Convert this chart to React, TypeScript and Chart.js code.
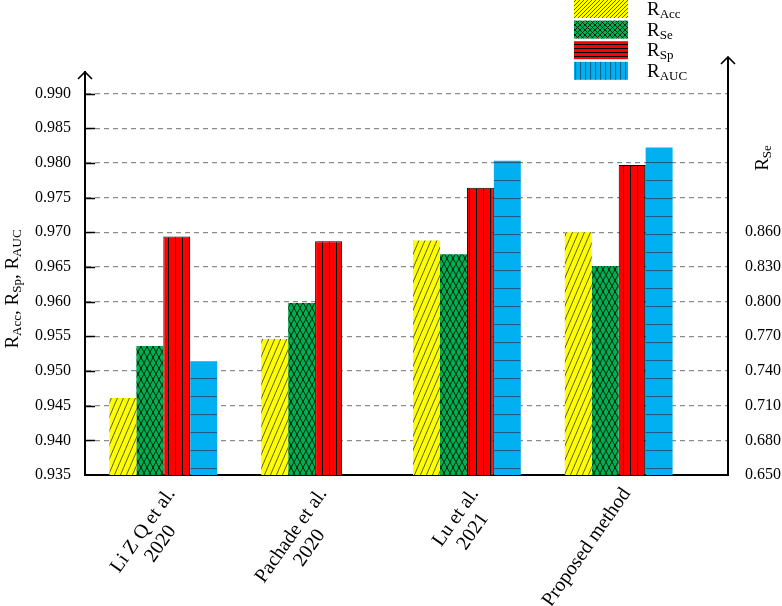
import React, { useEffect, useRef } from "react";
import { Chart, registerables } from "chart.js";

Chart.register(...registerables);

// Datos
const categories = [
  ["Li Z Q et al.", "2020"],
  ["Pachade et al.", "2020"],
  ["Lu et al.", "2021"],
  ["Proposed method"],
];
const seriesSubs = ["Acc", "Se", "Sp", "AUC"];
const accValues = [0.9461, 0.9546, 0.9688, 0.97];
const seValues = [0.7616, 0.7988, 0.841, 0.8308];
const spValues = [0.9694, 0.9687, 0.9764, 0.9797];
const aucValues = [0.9514, null, 0.9803, 0.9822];
const leftTicks = [0.935, 0.94, 0.945, 0.95, 0.955, 0.96, 0.965, 0.97, 0.975, 0.98, 0.985, 0.99];
const rightTicks = [0.65, 0.68, 0.71, 0.74, 0.77, 0.8, 0.83, 0.86];

const LEFT_MIN = 0.935;
const LEFT_MAX = 0.9931;
const RIGHT_MIN = 0.65;
const RIGHT_MAX = RIGHT_MIN + (LEFT_MAX - LEFT_MIN) * 6;

const FAMILY = "'Liberation Serif', 'Times New Roman', serif";
const MAIN_FONT = `19px ${FAMILY}`;
const SUB_FONT = `13px ${FAMILY}`;

type Part = [string, boolean];

const makePattern = (
  w: number,
  h: number,
  bg: string,
  draw: (c: CanvasRenderingContext2D) => void
) => {
  const cv = document.createElement("canvas");
  cv.width = w;
  cv.height = h;
  const c = cv.getContext("2d")!;
  c.fillStyle = bg;
  c.fillRect(0, 0, w, h);
  draw(c);
  return c.createPattern(cv, "repeat")!;
};

const seg = (c: CanvasRenderingContext2D, x1: number, y1: number, x2: number, y2: number) => {
  c.beginPath();
  c.moveTo(x1, y1);
  c.lineTo(x2, y2);
  c.stroke();
};

const hatch = (w: number, h: number, bg: string, color: string) =>
  makePattern(w, h, bg, (c) => {
    c.strokeStyle = color;
    c.lineWidth = 0.8;
    for (const dx of [-w, 0, w]) seg(c, dx, h, dx + w, 0);
  });

const cross = (w: number, h: number, bg: string) =>
  makePattern(w, h, bg, (c) => {
    c.strokeStyle = "#000";
    c.lineWidth = 0.8;
    for (const dx of [-w, 0, w]) {
      seg(c, dx, h, dx + w, 0);
      seg(c, dx, 0, dx + w, h);
    }
  });

const vlines = (w: number, h: number, bg: string, color: string, lw: number) =>
  makePattern(w, h, bg, (c) => {
    c.strokeStyle = color;
    c.lineWidth = lw;
    seg(c, 0.5, 0, 0.5, h);
  });

const hlines = (w: number, h: number, bg: string, color: string, lw: number) =>
  makePattern(w, h, bg, (c) => {
    c.strokeStyle = color;
    c.lineWidth = lw;
    seg(c, 0, 0.5, w, 0.5);
  });

// Texto con subíndices
const richWidth = (ctx: CanvasRenderingContext2D, parts: Part[]) =>
  parts.reduce((s, [t, sub]) => {
    ctx.font = sub ? SUB_FONT : MAIN_FONT;
    return s + ctx.measureText(t).width;
  }, 0);

const drawRich = (ctx: CanvasRenderingContext2D, parts: Part[], x: number, y: number) => {
  let cx = x;
  for (const [t, sub] of parts) {
    ctx.font = sub ? SUB_FONT : MAIN_FONT;
    ctx.fillText(t, cx, sub ? y + 3 : y);
    cx += ctx.measureText(t).width;
  }
};

const drawVertical = (ctx: CanvasRenderingContext2D, parts: Part[], cx: number, cy: number) => {
  const w = richWidth(ctx, parts);
  ctx.save();
  ctx.translate(cx, cy);
  ctx.rotate(-Math.PI / 2);
  drawRich(ctx, parts, -w / 2, 6);
  ctx.restore();
};

const drawArrow = (ctx: CanvasRenderingContext2D, x: number, y: number) => {
  ctx.beginPath();
  ctx.moveTo(x - 7, y + 7);
  ctx.lineTo(x, y);
  ctx.lineTo(x + 7, y + 7);
  ctx.stroke();
};

let measureCtx: CanvasRenderingContext2D | null = null;
const centerLines = (lines: string[]) => {
  if (!measureCtx) measureCtx = document.createElement("canvas").getContext("2d");
  const m = measureCtx!;
  m.font = `20px ${FAMILY}`;
  const widths = lines.map((l) => m.measureText(l).width);
  const maxW = Math.max(...widths);
  const sp = m.measureText(" ").width;
  return lines.map((l, i) => l + " ".repeat(Math.round((maxW - widths[i]) / 2 / sp)));
};

const ComparisonChart: React.FC = () => {
  const chartRef = useRef<HTMLCanvasElement>(null);
  const chartInstanceRef = useRef<Chart | null>(null);

  useEffect(() => {
    if (!chartRef.current) return;
    if (chartInstanceRef.current) chartInstanceRef.current.destroy();

    const barPatterns = [
      hatch(6, 14, "#FFFF00", "#333"),
      cross(6, 11, "#00B050"),
      vlines(7, 4, "#FF0000", "#000", 1),
      hlines(4, 18, "#00B0F0", "#1B5E86", 1.2),
    ];
    const legendPatterns = [
      hatch(4, 4, "#FFFF00", "#333"),
      cross(5, 5, "#00B050"),
      hlines(4, 4, "#FF0000", "#000", 1),
      vlines(5, 4, "#00B0F0", "#1B5E86", 1.2),
    ];

    const overlay = {
      id: "overlay",
      afterDraw(chart: Chart) {
        const { ctx, chartArea, scales } = chart;
        ctx.save();
        ctx.strokeStyle = "#000";
        ctx.fillStyle = "#000";

        // marcas interiores del eje izquierdo
        ctx.lineWidth = 1.5;
        leftTicks.slice(1).forEach((v) => {
          const y = Math.round(scales.y.getPixelForValue(v)) + 0.5;
          seg(ctx, chartArea.left, y, chartArea.left + 10, y);
        });

        // flechas de los ejes
        ctx.lineWidth = 2;
        seg(ctx, chartArea.right, chartArea.top + 1, chartArea.right, chartArea.top - 15);
        ctx.lineWidth = 1.6;
        drawArrow(ctx, chartArea.left, chartArea.top);
        drawArrow(ctx, chartArea.right, chartArea.top - 15);

        // leyenda
        ctx.textBaseline = "alphabetic";
        ctx.textAlign = "left";
        seriesSubs.forEach((sub, i) => {
          const top = i * 20.6;
          ctx.fillStyle = legendPatterns[i];
          ctx.fillRect(574, top, 54, 18);
          ctx.fillStyle = "#000";
          drawRich(ctx, [["R", false], [sub, true]], 647, top + 15);
        });

        // títulos de los ejes
        drawVertical(
          ctx,
          [["R", false], ["Acc", true], [", R", false], ["Sp", true], [", R", false], ["AUC", true]],
          12,
          289
        );
        drawVertical(ctx, [["R", false], ["Se", true]], 762, 158);
        ctx.restore();
      },
    };

    const toPoints = (vals: (number | null)[]) => vals.map((v, i) => ({ x: i, y: v }));
    const tickFont = { family: FAMILY, size: 16 };

    chartInstanceRef.current = new Chart(chartRef.current, {
      type: "bar",
      data: {
        datasets: [
          { label: "RAcc", data: toPoints(accValues), backgroundColor: barPatterns[0], borderWidth: 0, yAxisID: "y" },
          { label: "RSe", data: toPoints(seValues), backgroundColor: barPatterns[1], borderWidth: 0, yAxisID: "y2" },
          { label: "RSp", data: toPoints(spValues), backgroundColor: barPatterns[2], borderColor: "#000", borderWidth: 1, yAxisID: "y" },
          { label: "RAUC", data: toPoints(aucValues), backgroundColor: barPatterns[3], borderWidth: 0, yAxisID: "y" },
        ] as any,
      },
      options: {
        responsive: false,
        animation: false,
        layout: { padding: { top: 72, left: 0, right: 0, bottom: 0 } },
        datasets: { bar: { categoryPercentage: 0.71, barPercentage: 1 } },
        plugins: { legend: { display: false }, tooltip: { enabled: false } },
        scales: {
          x: {
            type: "linear",
            offset: false,
            min: -0.516,
            max: 3.72,
            afterBuildTicks: (s: any) => {
              s.ticks = categories.map((_, i) => ({ value: i }));
            },
            afterFit: (s: any) => {
              s.height = 131;
            },
            grid: { display: false, drawTicks: false, offset: false },
            border: { display: true, color: "#000", width: 2 },
            ticks: {
              autoSkip: false,
              minRotation: 55,
              maxRotation: 55,
              padding: 9,
              labelOffset: 8,
              color: "#000",
              font: { family: FAMILY, size: 20, lineHeight: 1.1 },
              callback: (_v: any, i: number) => centerLines(categories[i]),
            },
          },
          y: {
            type: "linear",
            position: "left",
            min: LEFT_MIN,
            max: LEFT_MAX,
            afterBuildTicks: (s: any) => {
              s.ticks = leftTicks.map((v) => ({ value: v }));
            },
            afterFit: (s: any) => {
              s.width = 85;
            },
            grid: {
              drawTicks: false,
              lineWidth: 1.2,
              color: (c: any) => (c.tick && c.tick.value > LEFT_MIN + 0.001 ? "#8c8c8c" : "rgba(0,0,0,0)"),
            },
            border: { color: "#000", width: 2, dash: [5, 4] },
            ticks: { padding: 14, color: "#000", font: tickFont, callback: (v: any) => Number(v).toFixed(3) },
          },
          y2: {
            type: "linear",
            position: "right",
            min: RIGHT_MIN,
            max: RIGHT_MAX,
            afterBuildTicks: (s: any) => {
              s.ticks = rightTicks.map((v) => ({ value: v }));
            },
            afterFit: (s: any) => {
              s.width = 54;
            },
            grid: { display: false, drawTicks: false },
            border: { color: "#000", width: 2 },
            ticks: { padding: 17, color: "#000", font: tickFont, callback: (v: any) => Number(v).toFixed(3) },
          },
        },
      } as any,
      plugins: [overlay],
    });

    return () => {
      if (chartInstanceRef.current) {
        chartInstanceRef.current.destroy();
        chartInstanceRef.current = null;
      }
    };
  }, []);

  return (
    <div style={{ position: "fixed", left: 0, top: 0, width: 782, height: 606, background: "#fff" }}>
      <canvas ref={chartRef} width={782} height={606} style={{ display: "block" }} />
    </div>
  );
};

export default function App() {
  return <ComparisonChart />;
}
